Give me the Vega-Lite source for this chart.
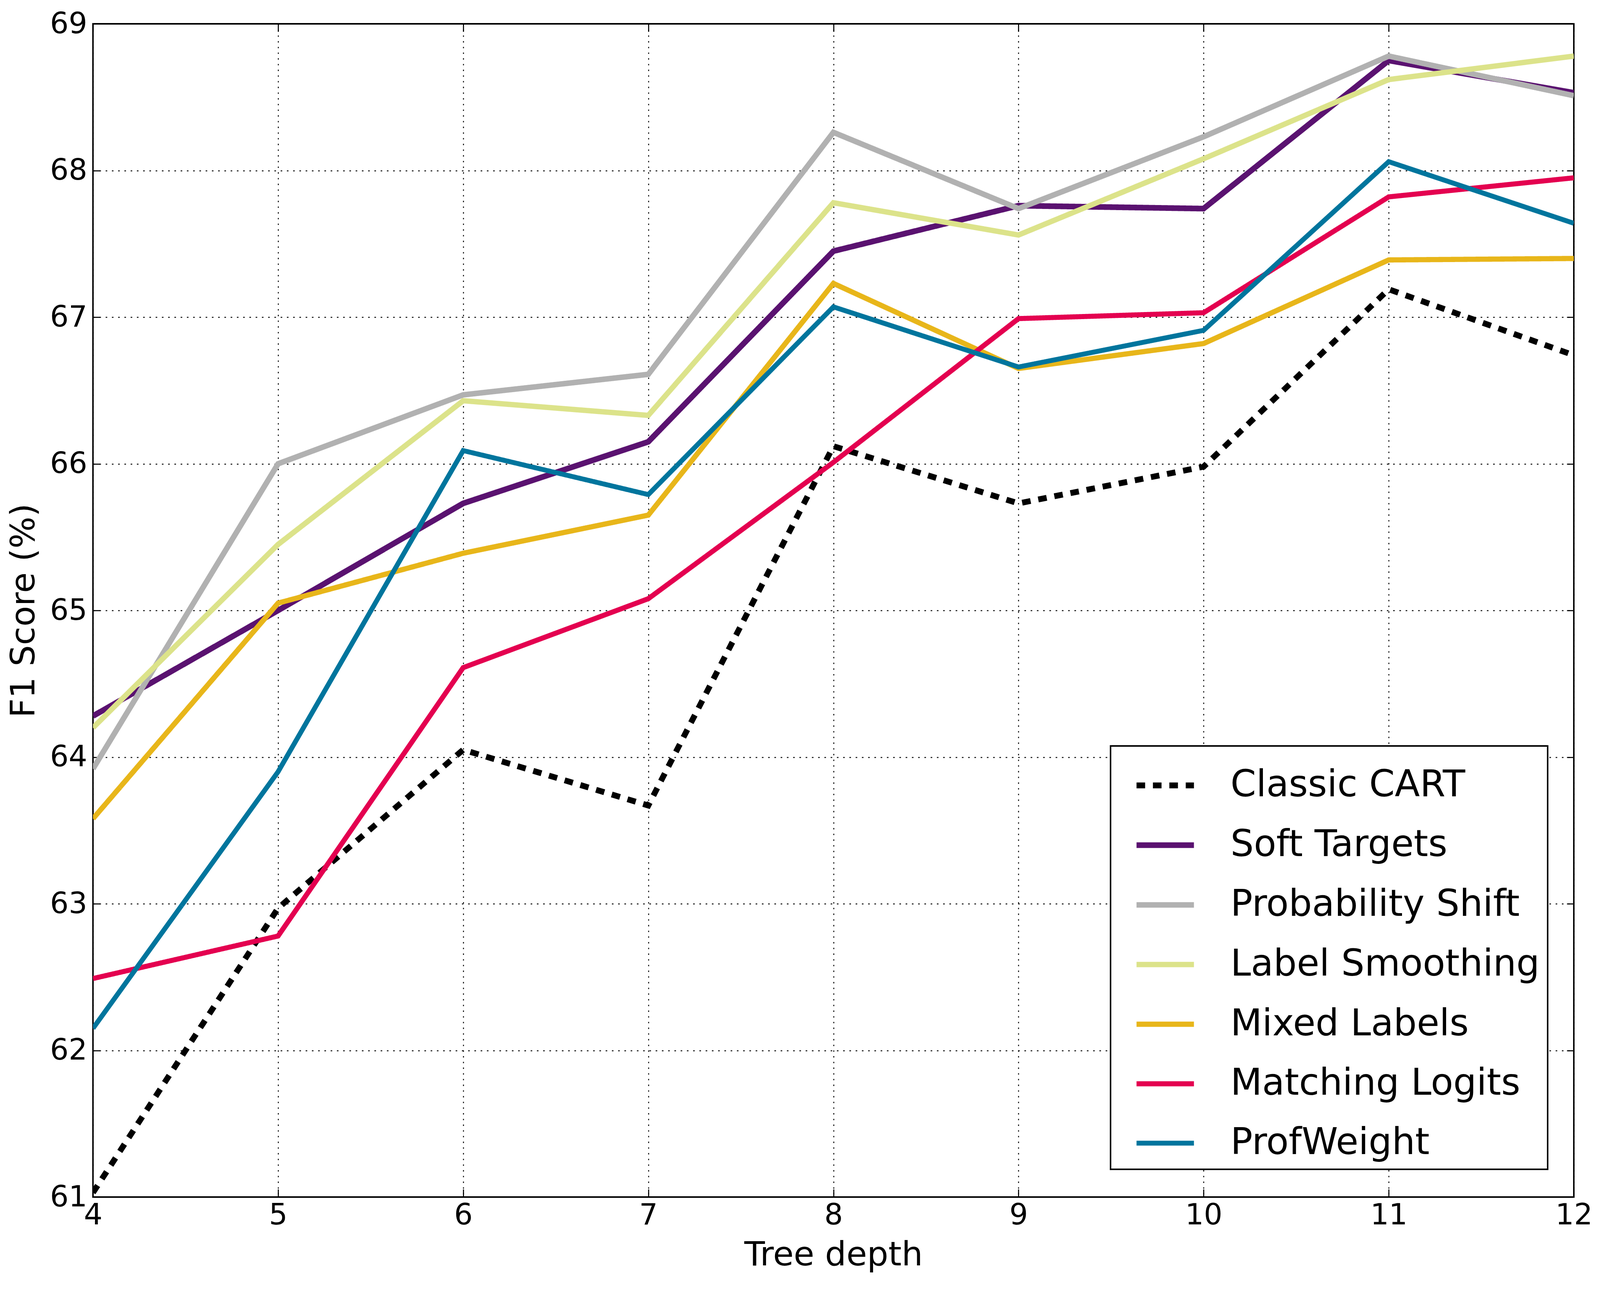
{
  "$schema": "https://vega.github.io/schema/vega-lite/v6.json",
  "width": 3791,
  "height": 3004,
  "autosize": {"type": "none"},
  "padding": {"left": 238, "top": 61, "right": 67, "bottom": 238},
  "background": "white",
  "config": {
    "font": "DejaVu Sans",
    "view": {"stroke": "black", "strokeWidth": 3.8},
    "legend": {"strokeWidth": 3.8}
  },
  "data": {
    "values": [
      {"method": "Classic CART", "depth": 4, "f1": 61.03},
      {"method": "Classic CART", "depth": 5, "f1": 62.97},
      {"method": "Classic CART", "depth": 6, "f1": 64.05},
      {"method": "Classic CART", "depth": 7, "f1": 63.67},
      {"method": "Classic CART", "depth": 8, "f1": 66.12},
      {"method": "Classic CART", "depth": 9, "f1": 65.73},
      {"method": "Classic CART", "depth": 10, "f1": 65.98},
      {"method": "Classic CART", "depth": 11, "f1": 67.19},
      {"method": "Classic CART", "depth": 12, "f1": 66.74},
      {"method": "Soft Targets", "depth": 4, "f1": 64.28},
      {"method": "Soft Targets", "depth": 5, "f1": 65.0},
      {"method": "Soft Targets", "depth": 6, "f1": 65.73},
      {"method": "Soft Targets", "depth": 7, "f1": 66.15},
      {"method": "Soft Targets", "depth": 8, "f1": 67.45},
      {"method": "Soft Targets", "depth": 9, "f1": 67.76},
      {"method": "Soft Targets", "depth": 10, "f1": 67.74},
      {"method": "Soft Targets", "depth": 11, "f1": 68.75},
      {"method": "Soft Targets", "depth": 12, "f1": 68.53},
      {"method": "Probability Shift", "depth": 4, "f1": 63.92},
      {"method": "Probability Shift", "depth": 5, "f1": 66.0},
      {"method": "Probability Shift", "depth": 6, "f1": 66.47},
      {"method": "Probability Shift", "depth": 7, "f1": 66.61},
      {"method": "Probability Shift", "depth": 8, "f1": 68.26},
      {"method": "Probability Shift", "depth": 9, "f1": 67.74},
      {"method": "Probability Shift", "depth": 10, "f1": 68.23},
      {"method": "Probability Shift", "depth": 11, "f1": 68.78},
      {"method": "Probability Shift", "depth": 12, "f1": 68.51},
      {"method": "Label Smoothing", "depth": 4, "f1": 64.2},
      {"method": "Label Smoothing", "depth": 5, "f1": 65.45},
      {"method": "Label Smoothing", "depth": 6, "f1": 66.43},
      {"method": "Label Smoothing", "depth": 7, "f1": 66.33},
      {"method": "Label Smoothing", "depth": 8, "f1": 67.78},
      {"method": "Label Smoothing", "depth": 9, "f1": 67.56},
      {"method": "Label Smoothing", "depth": 10, "f1": 68.08},
      {"method": "Label Smoothing", "depth": 11, "f1": 68.62},
      {"method": "Label Smoothing", "depth": 12, "f1": 68.78},
      {"method": "Mixed Labels", "depth": 4, "f1": 63.58},
      {"method": "Mixed Labels", "depth": 5, "f1": 65.05},
      {"method": "Mixed Labels", "depth": 6, "f1": 65.39},
      {"method": "Mixed Labels", "depth": 7, "f1": 65.65},
      {"method": "Mixed Labels", "depth": 8, "f1": 67.23},
      {"method": "Mixed Labels", "depth": 9, "f1": 66.65},
      {"method": "Mixed Labels", "depth": 10, "f1": 66.82},
      {"method": "Mixed Labels", "depth": 11, "f1": 67.39},
      {"method": "Mixed Labels", "depth": 12, "f1": 67.4},
      {"method": "Matching Logits", "depth": 4, "f1": 62.49},
      {"method": "Matching Logits", "depth": 5, "f1": 62.78},
      {"method": "Matching Logits", "depth": 6, "f1": 64.61},
      {"method": "Matching Logits", "depth": 7, "f1": 65.08},
      {"method": "Matching Logits", "depth": 8, "f1": 66.01},
      {"method": "Matching Logits", "depth": 9, "f1": 66.99},
      {"method": "Matching Logits", "depth": 10, "f1": 67.03},
      {"method": "Matching Logits", "depth": 11, "f1": 67.82},
      {"method": "Matching Logits", "depth": 12, "f1": 67.95},
      {"method": "ProfWeight", "depth": 4, "f1": 62.15},
      {"method": "ProfWeight", "depth": 5, "f1": 63.9},
      {"method": "ProfWeight", "depth": 6, "f1": 66.09},
      {"method": "ProfWeight", "depth": 7, "f1": 65.79},
      {"method": "ProfWeight", "depth": 8, "f1": 67.07},
      {"method": "ProfWeight", "depth": 9, "f1": 66.66},
      {"method": "ProfWeight", "depth": 10, "f1": 66.91},
      {"method": "ProfWeight", "depth": 11, "f1": 68.06},
      {"method": "ProfWeight", "depth": 12, "f1": 67.64}
    ]
  },
  "resolve": {"axis": {"x": "independent", "y": "independent"}},
  "layer": [
    {
      "mark": {"type": "line", "strokeCap": "butt", "strokeJoin": "miter", "clip": true},
      "encoding": {
        "x": {
          "field": "depth", "type": "quantitative",
          "scale": {"domain": [4, 12], "nice": false, "zero": false},
          "axis": {
            "orient": "bottom", "title": "Tree depth", "values": [4, 5, 6, 7, 8, 9, 10, 11, 12],
            "format": "d", "grid": true, "gridColor": "black", "gridWidth": 2.4, "gridDash": [3.6, 11], "gridOpacity": 1,
            "domain": false, "ticks": true, "tickSize": -20, "tickWidth": 2.7, "tickColor": "black",
            "labelFontSize": 75, "labelColor": "black", "labelPadding": 30, "labelFlush": false,
            "titleFontSize": 86, "titleFontWeight": "normal", "titleColor": "black", "titlePadding": 22
          }
        },
        "y": {
          "field": "f1", "type": "quantitative",
          "scale": {"domain": [61, 69], "nice": false, "zero": false},
          "axis": {
            "orient": "left", "title": "F1 Score (%)", "values": [61, 62, 63, 64, 65, 66, 67, 68, 69],
            "format": "d", "grid": true, "gridColor": "black", "gridWidth": 2.4, "gridDash": [4, 12], "gridOpacity": 1,
            "domain": false, "ticks": true, "tickSize": -18, "tickWidth": 2.7, "tickColor": "black",
            "labelFontSize": 75, "labelColor": "black", "labelPadding": 33, "labelFlush": false,
            "titleFontSize": 86, "titleFontWeight": "normal", "titleColor": "black", "titlePadding": 22
          }
        },
        "color": {
          "field": "method", "type": "nominal",
          "scale": {
            "domain": ["Classic CART", "Soft Targets", "Probability Shift", "Label Smoothing", "Mixed Labels", "Matching Logits", "ProfWeight"],
            "range": ["#000000", "#5a1270", "#b1b1b1", "#dce38a", "#e8b61a", "#e40050", "#00759d"]
          },
          "legend": {
            "title": null, "orient": "none", "legendX": 2605, "legendY": 1849,
            "strokeColor": "black", "fillColor": "white", "padding": 20,
            "labelFontSize": 94, "labelColor": "black", "labelFont": "DejaVu Sans", "labelLimit": 2000,
            "symbolType": "stroke", "symbolSize": 21600, "symbolStrokeWidth": 13, "symbolOffset": 39,
            "labelOffset": 86, "rowPadding": 25
          }
        },
        "strokeDash": {
          "field": "method", "type": "nominal",
          "scale": {
            "domain": ["Classic CART", "Soft Targets", "Probability Shift", "Label Smoothing", "Mixed Labels", "Matching Logits", "ProfWeight"],
            "range": [[22, 20], [1, 0], [1, 0], [1, 0], [1, 0], [1, 0], [1, 0]]
          },
          "legend": {
            "title": null, "orient": "none", "legendX": 2605, "legendY": 1849,
            "strokeColor": "black", "fillColor": "white", "padding": 20,
            "labelFontSize": 94, "labelColor": "black", "labelFont": "DejaVu Sans", "labelLimit": 2000,
            "symbolType": "stroke", "symbolSize": 21600, "symbolStrokeWidth": 13, "symbolOffset": 39,
            "labelOffset": 86, "rowPadding": 25
          }
        },
        "strokeWidth": {
          "field": "method", "type": "nominal",
          "scale": {
            "domain": ["Classic CART", "Soft Targets", "Probability Shift", "Label Smoothing", "Mixed Labels", "Matching Logits", "ProfWeight"],
            "range": [15, 12.5, 12.5, 12.5, 12.5, 12.5, 12.5]
          },
          "legend": null
        }
      }
    },
    {
      "mark": {"type": "line", "strokeOpacity": 0, "opacity": 0},
      "encoding": {
        "x": {
          "field": "depth", "type": "quantitative",
          "scale": {"domain": [4, 12], "nice": false, "zero": false},
          "axis": {
            "orient": "top", "title": null, "labels": false, "grid": false, "domain": false,
            "values": [4, 5, 6, 7, 8, 9, 10, 11, 12],
            "ticks": true, "tickSize": -20, "tickWidth": 2.7, "tickColor": "black"
          }
        },
        "y": {
          "field": "f1", "type": "quantitative",
          "scale": {"domain": [61, 69], "nice": false, "zero": false},
          "axis": {
            "orient": "right", "title": null, "labels": false, "grid": false, "domain": false,
            "values": [61, 62, 63, 64, 65, 66, 67, 68, 69],
            "ticks": true, "tickSize": -18, "tickWidth": 2.7, "tickColor": "black"
          }
        },
        "detail": {"field": "method", "type": "nominal"}
      }
    }
  ]
}
